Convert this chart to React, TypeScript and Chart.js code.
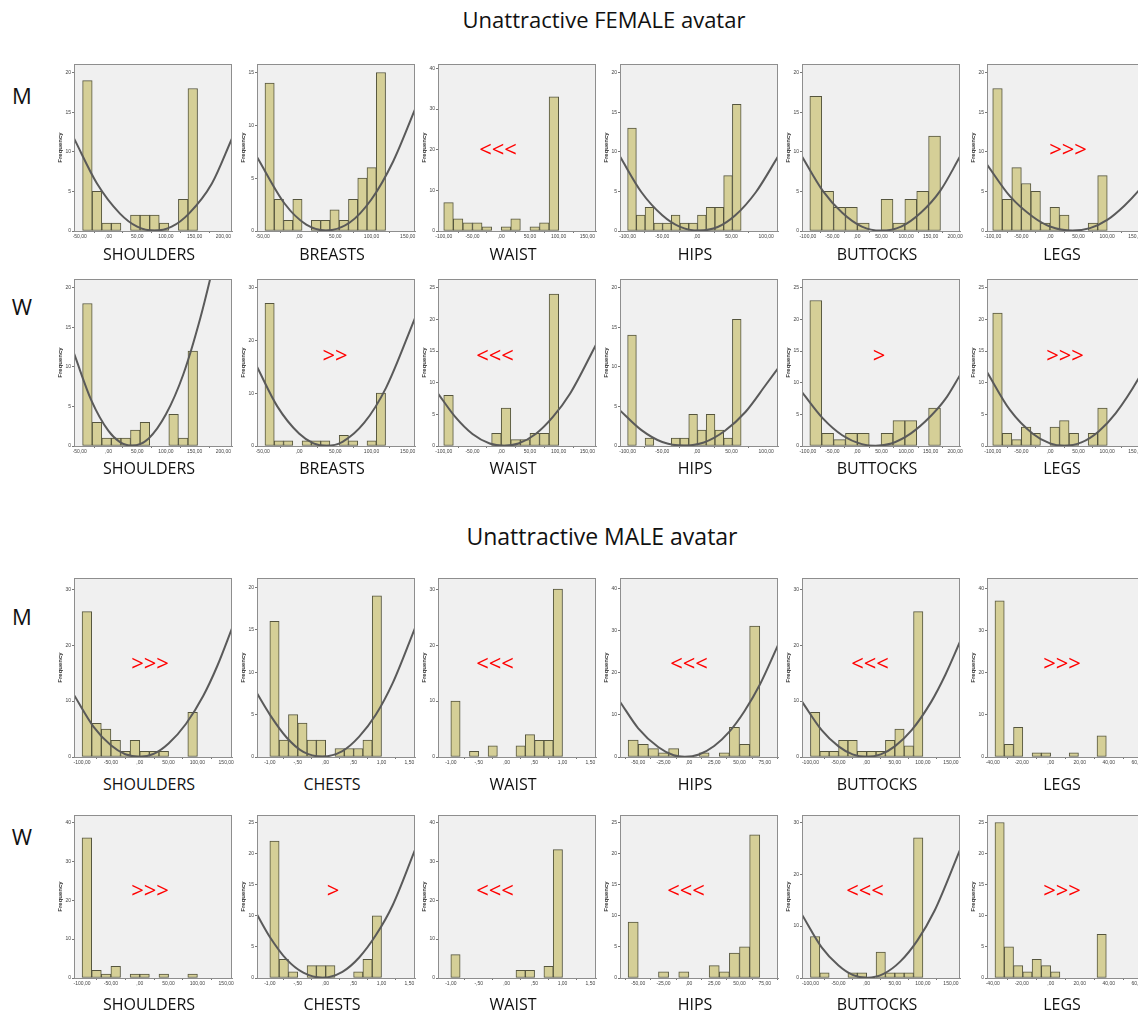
import React, { useEffect, useRef } from 'react';
import { Chart, registerables } from 'chart.js';

Chart.register(...registerables);

// ================= DATA =================
// x tick labels (values; formatted SPSS-style "-50,00", ",00")
const X_TICKS_SHOULDERS_F = [-50, 0, 50, 100, 150, 200];
const X_TICKS_BREASTS_F = [-50, 0, 50, 100, 150];
const X_TICKS_WAIST_F = [-100, -50, 0, 50, 100, 150];
const X_TICKS_HIPS_F = [-100, -50, 0, 50, 100];
const X_TICKS_BUTTOCKS_F = [-100, -50, 0, 50, 100, 150, 200];
const X_TICKS_LEGS_F = [-100, -50, 0, 50, 100, 150];
const X_TICKS_SHOULDERS_M = [-100, -50, 0, 50, 100, 150];
const X_TICKS_UNIT = [-1, -0.5, 0, 0.5, 1, 1.5];
const X_TICKS_HIPS_M = [-50, -25, 0, 25, 50, 75];
const X_TICKS_BUTTOCKS_M = [-100, -50, 0, 50, 100, 150];
const X_TICKS_LEGS_M = [-40, -20, 0, 20, 40, 60];

// y tick labels
const Y_TICKS_15 = [0, 5, 10, 15];
const Y_TICKS_20 = [0, 5, 10, 15, 20];
const Y_TICKS_25 = [0, 5, 10, 15, 20, 25];
const Y_TICKS_30 = [0, 10, 20, 30];
const Y_TICKS_40 = [0, 10, 20, 30, 40];

// axis value ranges and histogram bins  [xMin, xMax, firstBinStart, binWidth]
const AX_SHOULDERS_F = [-60, 215, -45, 16.67];
const AX_BREASTS_F = [-58, 160, -47, 12.8];
const AX_WAIST_F = [-110, 165, -100, 16.67];
const AX_HIPS_F = [-111, 117, -100, 12.6];
const AX_BUTTOCKS_F = [-112, 210, -96, 24.2];
const AX_LEGS_F = [-110, 166, -100, 16.67];
const AX_SHOULDERS_M = [-114, 160, -100, 16.67];
const AX_CHESTS_M = [-1.23, 1.6, -1, 0.1667];
const AX_WAIST_M = [-1.23, 1.6, -1, 0.1667];
const AX_HIPS_M = [-68, 88, -60, 10];
const AX_BUTTOCKS_M = [-115, 166, -100, 16.67];
const AX_LEGS_M = [-44, 65, -38.5, 6.4];

// ---- Unattractive FEMALE avatar, M raters ----
const FM_SHOULDERS = [19, 5, 1, 1, 0, 2, 2, 2, 1, 0, 4, 18];
const FM_SHOULDERS_CX = [-60, -20, 20, 50, 80, 110, 140, 180, 215];
const FM_SHOULDERS_CY = [11.7, 6.0, 2.2, 0.55, 0.05, 0.55, 2.2, 6.0, 11.7];
const FM_BREASTS = [14, 3, 1, 3, 0, 1, 1, 2, 1, 3, 5, 6, 15];
const FM_BREASTS_CX = [-58, -20, 10, 37, 70, 100, 130, 160];
const FM_BREASTS_CY = [7.0, 2.6, 0.6, 0.05, 0.8, 3.0, 6.6, 11.5];
const FM_WAIST = [7, 3, 2, 2, 1, 0, 1, 3, 0, 1, 2, 33];
const FM_HIPS = [13, 2, 3, 1, 1, 2, 1, 1, 2, 3, 3, 7, 16];
const FM_HIPS_CX = [-111, -80, -50, -25, 3, 30, 55, 85, 117];
const FM_HIPS_CY = [9.4, 4.9, 2.0, 0.56, 0.05, 0.5, 1.95, 4.9, 9.4];
const FM_BUTTOCKS = [17, 5, 3, 3, 1, 0, 4, 1, 4, 5, 12];
const FM_BUTTOCKS_CX = [-112, -70, -30, 10, 49, 90, 130, 170, 210];
const FM_BUTTOCKS_CY = [9.4, 5.1, 2.3, 0.55, 0.05, 0.55, 2.3, 5.1, 9.4];
const FM_LEGS = [18, 4, 8, 6, 5, 1, 3, 2, 0, 0, 1, 7];
const FM_LEGS_CX = [-110, -70, -30, 0, 39, 70, 100, 130, 155, 166];
const FM_LEGS_CY = [8.4, 4.4, 1.8, 0.57, 0.05, 0.36, 1.4, 3.2, 5.1, 6.1];

// ---- Unattractive FEMALE avatar, W raters ----
const FW_SHOULDERS = [18, 3, 1, 1, 1, 2, 3, 0, 0, 4, 1, 12];
const FW_SHOULDERS_CX = [-60, -30, 0, 20, 41, 70, 100, 130, 160, 190];
const FW_SHOULDERS_CY = [11.7, 5.8, 1.9, 0.5, 0.05, 0.96, 4.0, 9.0, 16.2, 25.0];
const FW_BREASTS = [27, 1, 1, 0, 1, 1, 1, 0, 2, 1, 0, 1, 10];
const FW_BREASTS_CX = [-58, -30, 0, 20, 38, 60, 90, 120, 160];
const FW_BREASTS_CY = [15.0, 7.5, 2.35, 0.5, 0.05, 0.8, 4.4, 11.0, 24.2];
const FW_WAIST = [8, 0, 0, 0, 0, 2, 6, 1, 1, 2, 2, 24];
const FW_WAIST_CX = [-110, -80, -50, -20, 5, 30, 60, 90, 120, 165];
const FW_WAIST_CY = [8.3, 4.6, 1.9, 0.4, 0.05, 0.4, 1.9, 4.6, 8.3, 16.0];
const FW_HIPS = [14, 0, 1, 0, 0, 1, 1, 4, 2, 4, 2, 1, 16];
const FW_HIPS_CX = [-111, -80, -50, -19, 10, 40, 70, 100, 117];
const FW_HIPS_CY = [4.5, 2.0, 0.5, 0.05, 0.45, 1.9, 4.3, 7.8, 9.8];
const FW_BUTTOCKS = [23, 2, 1, 2, 2, 0, 2, 4, 4, 0, 6];
const FW_BUTTOCKS_CX = [-112, -70, -30, 10, 38, 70, 110, 150, 180, 210];
const FW_BUTTOCKS_CY = [8.5, 4.4, 1.7, 0.3, 0.05, 0.4, 2.0, 4.7, 7.4, 11.2];
const FW_LEGS = [21, 2, 1, 3, 2, 0, 3, 4, 2, 0, 2, 6];
const FW_LEGS_CX = [-110, -70, -30, 0, 25, 55, 85, 115, 155, 166];
const FW_LEGS_CY = [11.7, 5.7, 1.94, 0.41, 0.05, 0.57, 2.3, 5.2, 10.7, 12.6];

// ---- Unattractive MALE avatar, M raters ----
const MM_SHOULDERS = [26, 6, 5, 3, 1, 3, 1, 1, 1, 0, 0, 8];
const MM_SHOULDERS_CX = [-114, -80, -50, -25, 0, 25, 50, 80, 110, 135, 160];
const MM_SHOULDERS_CY = [11.1, 5.4, 2.1, 0.5, 0.05, 0.6, 2.4, 5.9, 10.9, 16.4, 23.0];
const MM_CHESTS = [16, 2, 5, 4, 2, 2, 0, 1, 1, 1, 2, 19];
const MM_CHESTS_CX = [-1.23, -1.0, -0.7, -0.4, -0.06, 0.3, 0.6, 0.9, 1.2, 1.6];
const MM_CHESTS_CY = [7.5, 5.0, 2.3, 0.6, 0.05, 0.7, 2.4, 5.0, 8.7, 15.2];
const MM_WAIST = [10, 0, 1, 0, 2, 0, 0, 2, 4, 3, 3, 30];
const MM_HIPS = [4, 3, 2, 1, 2, 0, 0, 1, 0, 1, 7, 3, 31];
const MM_HIPS_CX = [-68, -50, -30, -15, -4, 10, 25, 40, 55, 70, 88];
const MM_HIPS_CY = [13.1, 6.8, 2.3, 0.4, 0.05, 0.6, 2.6, 6.0, 10.9, 17.1, 26.5];
const MM_BUTTOCKS = [8, 1, 1, 3, 3, 1, 1, 1, 3, 5, 2, 26];
const MM_BUTTOCKS_CX = [-115, -80, -50, -25, 0, 25, 50, 80, 115, 140, 166];
const MM_BUTTOCKS_CY = [9.9, 4.8, 1.9, 0.47, 0.05, 0.47, 1.9, 4.8, 9.9, 14.7, 20.6];
const MM_LEGS = [37, 3, 7, 0, 1, 1, 0, 0, 1, 0, 0, 5];

// ---- Unattractive MALE avatar, W raters ----
const MW_SHOULDERS = [36, 2, 1, 3, 0, 1, 1, 0, 1, 0, 0, 1];
const MW_CHESTS = [22, 3, 1, 0, 2, 2, 2, 0, 0, 1, 3, 10];
const MW_CHESTS_CX = [-1.23, -1.0, -0.7, -0.4, -0.06, 0.3, 0.6, 0.9, 1.2, 1.6];
const MW_CHESTS_CY = [10.2, 6.6, 3.0, 0.86, 0.05, 1.0, 3.3, 6.9, 11.7, 20.6];
const MW_WAIST = [6, 0, 0, 0, 0, 0, 0, 2, 2, 0, 3, 33];
const MW_HIPS = [9, 0, 0, 1, 0, 1, 0, 0, 2, 1, 4, 5, 23];
const MW_BUTTOCKS = [8, 1, 0, 0, 1, 1, 0, 5, 1, 1, 1, 27];
const MW_BUTTOCKS_CX = [-115, -80, -50, -25, 1, 30, 60, 90, 120, 166];
const MW_BUTTOCKS_CY = [12.2, 5.9, 2.4, 0.6, 0.05, 0.8, 3.2, 7.2, 12.8, 24.7];
const MW_LEGS = [25, 5, 2, 1, 3, 2, 1, 0, 0, 0, 0, 7];

// ================= PANEL TABLE =================
const P = (caption, counts, ax, xTicks, yMax, yTicks, cx, cy, mark) => ({
  caption, counts, ax, xTicks, yMax, yTicks, cx, cy, mark,
});

const ROWS = [
  [
    P('SHOULDERS', FM_SHOULDERS, AX_SHOULDERS_F, X_TICKS_SHOULDERS_F, 21.1, Y_TICKS_20, FM_SHOULDERS_CX, FM_SHOULDERS_CY, ''),
    P('BREASTS', FM_BREASTS, AX_BREASTS_F, X_TICKS_BREASTS_F, 15.8, Y_TICKS_15, FM_BREASTS_CX, FM_BREASTS_CY, ''),
    P('WAIST', FM_WAIST, AX_WAIST_F, X_TICKS_WAIST_F, 41.1, Y_TICKS_40, null, null, '<<<'),
    P('HIPS', FM_HIPS, AX_HIPS_F, X_TICKS_HIPS_F, 21.1, Y_TICKS_20, FM_HIPS_CX, FM_HIPS_CY, ''),
    P('BUTTOCKS', FM_BUTTOCKS, AX_BUTTOCKS_F, X_TICKS_BUTTOCKS_F, 21.1, Y_TICKS_20, FM_BUTTOCKS_CX, FM_BUTTOCKS_CY, ''),
    P('LEGS', FM_LEGS, AX_LEGS_F, X_TICKS_LEGS_F, 21.1, Y_TICKS_20, FM_LEGS_CX, FM_LEGS_CY, '>>>'),
  ],
  [
    P('SHOULDERS', FW_SHOULDERS, AX_SHOULDERS_F, X_TICKS_SHOULDERS_F, 21.1, Y_TICKS_20, FW_SHOULDERS_CX, FW_SHOULDERS_CY, ''),
    P('BREASTS', FW_BREASTS, AX_BREASTS_F, X_TICKS_BREASTS_F, 31.6, Y_TICKS_30, FW_BREASTS_CX, FW_BREASTS_CY, '>>'),
    P('WAIST', FW_WAIST, AX_WAIST_F, X_TICKS_WAIST_F, 26.4, Y_TICKS_25, FW_WAIST_CX, FW_WAIST_CY, '<<<'),
    P('HIPS', FW_HIPS, AX_HIPS_F, X_TICKS_HIPS_F, 21.1, Y_TICKS_20, FW_HIPS_CX, FW_HIPS_CY, ''),
    P('BUTTOCKS', FW_BUTTOCKS, AX_BUTTOCKS_F, X_TICKS_BUTTOCKS_F, 26.4, Y_TICKS_25, FW_BUTTOCKS_CX, FW_BUTTOCKS_CY, '>'),
    P('LEGS', FW_LEGS, AX_LEGS_F, X_TICKS_LEGS_F, 26.4, Y_TICKS_25, FW_LEGS_CX, FW_LEGS_CY, '>>>'),
  ],
  [
    P('SHOULDERS', MM_SHOULDERS, AX_SHOULDERS_M, X_TICKS_SHOULDERS_M, 32, Y_TICKS_30, MM_SHOULDERS_CX, MM_SHOULDERS_CY, '>>>'),
    P('CHESTS', MM_CHESTS, AX_CHESTS_M, X_TICKS_UNIT, 21.1, Y_TICKS_20, MM_CHESTS_CX, MM_CHESTS_CY, ''),
    P('WAIST', MM_WAIST, AX_WAIST_M, X_TICKS_UNIT, 32, Y_TICKS_30, null, null, '<<<'),
    P('HIPS', MM_HIPS, AX_HIPS_M, X_TICKS_HIPS_M, 42.4, Y_TICKS_40, MM_HIPS_CX, MM_HIPS_CY, '<<<'),
    P('BUTTOCKS', MM_BUTTOCKS, AX_BUTTOCKS_M, X_TICKS_BUTTOCKS_M, 32, Y_TICKS_30, MM_BUTTOCKS_CX, MM_BUTTOCKS_CY, '<<<'),
    P('LEGS', MM_LEGS, AX_LEGS_M, X_TICKS_LEGS_M, 42.4, Y_TICKS_40, null, null, '>>>'),
  ],
  [
    P('SHOULDERS', MW_SHOULDERS, AX_SHOULDERS_M, X_TICKS_SHOULDERS_M, 41.9, Y_TICKS_40, null, null, '>>>'),
    P('CHESTS', MW_CHESTS, AX_CHESTS_M, X_TICKS_UNIT, 26.2, Y_TICKS_25, MW_CHESTS_CX, MW_CHESTS_CY, '>'),
    P('WAIST', MW_WAIST, AX_WAIST_M, X_TICKS_UNIT, 41.9, Y_TICKS_40, null, null, '<<<'),
    P('HIPS', MW_HIPS, AX_HIPS_M, X_TICKS_HIPS_M, 26.2, Y_TICKS_25, null, null, '<<<'),
    P('BUTTOCKS', MW_BUTTOCKS, AX_BUTTOCKS_M, X_TICKS_BUTTOCKS_M, 31.4, Y_TICKS_30, MW_BUTTOCKS_CX, MW_BUTTOCKS_CY, '<<<'),
    P('LEGS', MW_LEGS, AX_LEGS_M, X_TICKS_LEGS_M, 26.2, Y_TICKS_25, null, null, '>>>'),
  ],
];

const ROW_LABELS = ['M', 'W', 'M', 'W'];
const TITLES = ['Unattractive FEMALE avatar', 'Unattractive MALE avatar'];

// ================= LAYOUT =================
const COL_X = [74, 257, 438, 620, 802, 987];
const FRAME_W = 158;
const ROW_TOP = [64, 279, 578, 815];
const ROW_AXIS = [231, 446, 757, 978];
const CAPTION_Y = [254, 468, 784, 1004];
const ROW_LABEL_Y = [95, 306, 616, 836];
const TITLE_POS = [[604, 19, 22], [602, 536, 23]];
const MARK_Y = [148, 354, 662, 889];
const MARK_X = [
  [0, 0, 498, 0, 0, 1068],
  [0, 335, 495, 0, 879, 1065],
  [150, 0, 495, 689, 870, 1062],
  [150, 333, 495, 686, 865, 1062],
];

const LEFT_M = 17;
const TOP_M = 6;
const RIGHT_M = 8;
const BOTTOM_M = 16;

const FONT = '"Open Sans", "Liberation Sans", sans-serif';

function fmt(v) {
  const neg = v < 0;
  const a = Math.abs(v);
  const ip = Math.floor(a + 1e-9);
  const dec = Math.round((a - ip) * 100);
  return (neg ? '-' : '') + (ip === 0 ? '' : String(ip)) + ',' + String(dec).padStart(2, '0');
}

const framePlugin = {
  id: 'spssFrame',
  beforeDraw(chart) {
    const a = chart.chartArea;
    const ctx = chart.ctx;
    ctx.save();
    ctx.fillStyle = '#F0F0F0';
    ctx.fillRect(a.left, a.top, a.right - a.left, a.bottom - a.top);
    ctx.restore();
  },
  afterDraw(chart) {
    const a = chart.chartArea;
    const ctx = chart.ctx;
    ctx.save();
    ctx.strokeStyle = '#8E8E8E';
    ctx.lineWidth = 1;
    ctx.strokeRect(Math.round(a.left) + 0.5, Math.round(a.top) + 0.5, Math.round(a.right - a.left) - 1, Math.round(a.bottom - a.top));
    ctx.restore();
  },
};

function Panel({ spec, left, top, frameH }) {
  const ref = useRef(null);
  const width = LEFT_M + FRAME_W + RIGHT_M;
  const height = TOP_M + frameH + BOTTOM_M;
  useEffect(() => {
    const [xMin, xMax, binStart, binWidth] = spec.ax;
    const bars = spec.counts.map((c, i) => ({ x: binStart + binWidth * (i + 0.5), y: c }));
    const datasets: any[] = [];
    if (spec.cx) {
      datasets.push({
        type: 'line',
        data: spec.cx.map((x, i) => ({ x, y: spec.cy[i] })),
        borderColor: '#5A5A5A',
        borderWidth: 2,
        pointRadius: 0,
        fill: false,
        cubicInterpolationMode: 'monotone',
        order: 1,
      });
    }
    datasets.push({
      type: 'bar',
      data: bars,
      backgroundColor: '#D5CF97',
      borderColor: '#55553E',
      borderWidth: 1,
      borderSkipped: false,
      barPercentage: 1,
      categoryPercentage: 1,
      order: 2,
    });
    const tickFont = { size: 5, family: '"Liberation Sans", Arial, sans-serif' };
    const chart = new Chart(ref.current, {
      type: 'bar',
      data: { datasets },
      plugins: [framePlugin],
      options: {
        animation: false,
        responsive: false,
        maintainAspectRatio: false,
        events: [],
        layout: { padding: { top: TOP_M, right: RIGHT_M, left: 0, bottom: 0 } },
        plugins: { legend: { display: false }, tooltip: { enabled: false } },
        scales: {
          x: {
            type: 'linear',
            min: xMin,
            max: xMax,
            offset: false,
            afterBuildTicks: (s) => { s.ticks = spec.xTicks.map((v) => ({ value: v })); },
            afterFit: (s) => { s.height = BOTTOM_M; },
            ticks: { font: tickFont, color: '#444', padding: 1, maxRotation: 0, autoSkip: false, callback: (v) => fmt(Number(v)) },
            grid: { display: true, drawOnChartArea: false, drawTicks: true, tickLength: 2, color: '#777' },
            border: { display: true, color: '#8E8E8E' },
          },
          y: {
            min: 0,
            max: spec.yMax,
            afterBuildTicks: (s) => { s.ticks = spec.yTicks.map((v) => ({ value: v })); },
            afterFit: (s) => { s.width = LEFT_M; },
            title: { display: true, text: 'Frequency', font: { size: 6, weight: 'bold', family: '"Liberation Sans", Arial, sans-serif' }, color: '#333', padding: 0 },
            ticks: { font: tickFont, color: '#444', padding: 1, autoSkip: false, callback: (v) => String(v) },
            grid: { display: true, drawOnChartArea: false, drawTicks: true, tickLength: 2, color: '#777' },
            border: { display: true, color: '#8E8E8E' },
          },
        },
      },
    } as any);
    return () => chart.destroy();
  }, []);
  return (
    <canvas
      ref={ref}
      width={width}
      height={height}
      style={{ position: 'absolute', left: left - LEFT_M, top: top - TOP_M, width, height }}
    />
  );
}

const abs = (x, y, extra = {}) => ({
  position: 'absolute' as const, left: x, top: y, transform: 'translate(-50%, -50%)', whiteSpace: 'nowrap' as const, fontFamily: FONT, ...extra,
});

export default function App() {
  return (
    <div style={{ position: 'absolute', left: 0, top: 0, width: 1138, height: 1015, overflow: 'hidden', background: '#fff' }}>
      {TITLES.map((t, i) => (
        <div key={t} style={abs(TITLE_POS[i][0], TITLE_POS[i][1], { fontSize: TITLE_POS[i][2], color: '#111' })}>{t}</div>
      ))}
      {ROWS.map((row, r) => (
        <React.Fragment key={r}>
          <div style={abs(22, ROW_LABEL_Y[r], { fontSize: 22, color: '#111' })}>{ROW_LABELS[r]}</div>
          {row.map((spec, c) => (
            <React.Fragment key={c}>
              <Panel spec={spec} left={COL_X[c]} top={ROW_TOP[r]} frameH={ROW_AXIS[r] - ROW_TOP[r]} />
              <div style={abs(COL_X[c] + FRAME_W / 2 - 4, CAPTION_Y[r], { fontSize: 16, color: '#111' })}>{spec.caption}</div>
              {spec.mark ? (
                <div style={abs(MARK_X[r][c], MARK_Y[r], { fontSize: 22, color: '#FF0000' })}>{spec.mark}</div>
              ) : null}
            </React.Fragment>
          ))}
        </React.Fragment>
      ))}
    </div>
  );
}
